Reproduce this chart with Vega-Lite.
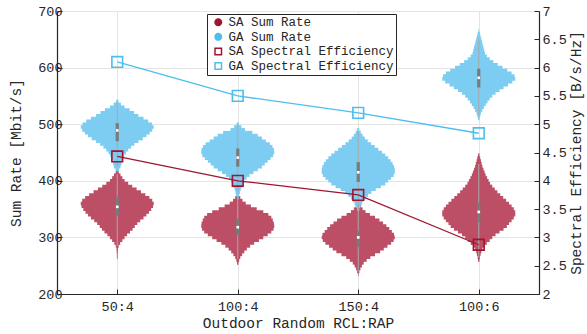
{
"$schema":"https://vega.github.io/schema/vega-lite/v6.json",
"width":482,"height":283,
"autosize":{"type":"none"},
"padding":{"left":57,"top":11,"right":48,"bottom":40},
"background":"white",
"config":{"font":"Liberation Mono","view":{"stroke":null},
"axis":{"labelFont":"Liberation Mono","titleFont":"Liberation Mono","labelFontSize":13.5,"titleFontSize":14.5,"titleFontWeight":"normal","labelColor":"#262626","titleColor":"#262626","domain":true,"ticks":true,"domainWidth":1.2,"domainColor":"#262626","tickColor":"#262626","gridColor":"#e4e4e4","gridWidth":1,"tickSize":-5,"labelPadding":3},
"legend":{"labelFont":"Liberation Mono","labelFontSize":12.5,"labelColor":"#262626","labelLimit":400}},
"datasets":{
"violin":[
{"c":"50:4","g":"SA","v":415,"w":0.04},{"c":"50:4","g":"SA","v":410,"w":0.09},{"c":"50:4","g":"SA","v":405,"w":0.14},{"c":"50:4","g":"SA","v":400,"w":0.2},{"c":"50:4","g":"SA","v":395,"w":0.3},{"c":"50:4","g":"SA","v":390,"w":0.41},{"c":"50:4","g":"SA","v":385,"w":0.53},{"c":"50:4","g":"SA","v":380,"w":0.65},{"c":"50:4","g":"SA","v":375,"w":0.77},{"c":"50:4","g":"SA","v":370,"w":0.88},{"c":"50:4","g":"SA","v":365,"w":0.96},{"c":"50:4","g":"SA","v":360,"w":1.0},{"c":"50:4","g":"SA","v":355,"w":0.98},{"c":"50:4","g":"SA","v":350,"w":0.93},{"c":"50:4","g":"SA","v":345,"w":0.87},{"c":"50:4","g":"SA","v":340,"w":0.8},{"c":"50:4","g":"SA","v":335,"w":0.72},{"c":"50:4","g":"SA","v":330,"w":0.63},{"c":"50:4","g":"SA","v":325,"w":0.55},{"c":"50:4","g":"SA","v":320,"w":0.48},{"c":"50:4","g":"SA","v":315,"w":0.42},{"c":"50:4","g":"SA","v":310,"w":0.35},{"c":"50:4","g":"SA","v":305,"w":0.27},{"c":"50:4","g":"SA","v":300,"w":0.2},{"c":"50:4","g":"SA","v":295,"w":0.14},{"c":"50:4","g":"SA","v":290,"w":0.08},{"c":"50:4","g":"SA","v":285,"w":0.04},{"c":"50:4","g":"SA","v":280,"w":0.02},{"c":"50:4","g":"SA","v":275,"w":0.015},{"c":"50:4","g":"SA","v":270,"w":0.01},{"c":"50:4","g":"SA","v":265,"w":0.01},
{"c":"50:4","g":"GA","v":540,"w":0.03},{"c":"50:4","g":"GA","v":535,"w":0.1},{"c":"50:4","g":"GA","v":530,"w":0.2},{"c":"50:4","g":"GA","v":525,"w":0.34},{"c":"50:4","g":"GA","v":520,"w":0.46},{"c":"50:4","g":"GA","v":515,"w":0.58},{"c":"50:4","g":"GA","v":510,"w":0.72},{"c":"50:4","g":"GA","v":505,"w":0.85},{"c":"50:4","g":"GA","v":500,"w":0.95},{"c":"50:4","g":"GA","v":495,"w":1.0},{"c":"50:4","g":"GA","v":490,"w":0.96},{"c":"50:4","g":"GA","v":485,"w":0.89},{"c":"50:4","g":"GA","v":480,"w":0.8},{"c":"50:4","g":"GA","v":475,"w":0.7},{"c":"50:4","g":"GA","v":470,"w":0.58},{"c":"50:4","g":"GA","v":465,"w":0.47},{"c":"50:4","g":"GA","v":460,"w":0.38},{"c":"50:4","g":"GA","v":455,"w":0.3},{"c":"50:4","g":"GA","v":450,"w":0.24},{"c":"50:4","g":"GA","v":445,"w":0.19},{"c":"50:4","g":"GA","v":440,"w":0.16},{"c":"50:4","g":"GA","v":435,"w":0.13},{"c":"50:4","g":"GA","v":430,"w":0.11},{"c":"50:4","g":"GA","v":425,"w":0.09},{"c":"50:4","g":"GA","v":420,"w":0.05},
{"c":"100:4","g":"SA","v":375,"w":0.03},{"c":"100:4","g":"SA","v":370,"w":0.07},{"c":"100:4","g":"SA","v":365,"w":0.13},{"c":"100:4","g":"SA","v":360,"w":0.22},{"c":"100:4","g":"SA","v":355,"w":0.36},{"c":"100:4","g":"SA","v":350,"w":0.52},{"c":"100:4","g":"SA","v":345,"w":0.7},{"c":"100:4","g":"SA","v":340,"w":0.84},{"c":"100:4","g":"SA","v":335,"w":0.92},{"c":"100:4","g":"SA","v":330,"w":0.96},{"c":"100:4","g":"SA","v":325,"w":0.99},{"c":"100:4","g":"SA","v":320,"w":1.0},{"c":"100:4","g":"SA","v":315,"w":0.98},{"c":"100:4","g":"SA","v":310,"w":0.92},{"c":"100:4","g":"SA","v":305,"w":0.82},{"c":"100:4","g":"SA","v":300,"w":0.7},{"c":"100:4","g":"SA","v":295,"w":0.58},{"c":"100:4","g":"SA","v":290,"w":0.45},{"c":"100:4","g":"SA","v":285,"w":0.34},{"c":"100:4","g":"SA","v":280,"w":0.25},{"c":"100:4","g":"SA","v":275,"w":0.18},{"c":"100:4","g":"SA","v":270,"w":0.12},{"c":"100:4","g":"SA","v":265,"w":0.07},{"c":"100:4","g":"SA","v":260,"w":0.04},{"c":"100:4","g":"SA","v":255,"w":0.02},
{"c":"100:4","g":"GA","v":500,"w":0.03},{"c":"100:4","g":"GA","v":495,"w":0.1},{"c":"100:4","g":"GA","v":490,"w":0.2},{"c":"100:4","g":"GA","v":485,"w":0.4},{"c":"100:4","g":"GA","v":480,"w":0.55},{"c":"100:4","g":"GA","v":475,"w":0.66},{"c":"100:4","g":"GA","v":470,"w":0.77},{"c":"100:4","g":"GA","v":465,"w":0.88},{"c":"100:4","g":"GA","v":460,"w":0.95},{"c":"100:4","g":"GA","v":455,"w":0.99},{"c":"100:4","g":"GA","v":450,"w":1.0},{"c":"100:4","g":"GA","v":445,"w":0.97},{"c":"100:4","g":"GA","v":440,"w":0.9},{"c":"100:4","g":"GA","v":435,"w":0.82},{"c":"100:4","g":"GA","v":430,"w":0.74},{"c":"100:4","g":"GA","v":425,"w":0.66},{"c":"100:4","g":"GA","v":420,"w":0.55},{"c":"100:4","g":"GA","v":415,"w":0.43},{"c":"100:4","g":"GA","v":410,"w":0.32},{"c":"100:4","g":"GA","v":405,"w":0.24},{"c":"100:4","g":"GA","v":400,"w":0.18},{"c":"100:4","g":"GA","v":395,"w":0.14},{"c":"100:4","g":"GA","v":390,"w":0.11},{"c":"100:4","g":"GA","v":385,"w":0.08},{"c":"100:4","g":"GA","v":380,"w":0.06},{"c":"100:4","g":"GA","v":375,"w":0.04},{"c":"100:4","g":"GA","v":370,"w":0.02},
{"c":"150:4","g":"SA","v":360,"w":0.03},{"c":"150:4","g":"SA","v":355,"w":0.07},{"c":"150:4","g":"SA","v":350,"w":0.12},{"c":"150:4","g":"SA","v":345,"w":0.2},{"c":"150:4","g":"SA","v":340,"w":0.32},{"c":"150:4","g":"SA","v":335,"w":0.46},{"c":"150:4","g":"SA","v":330,"w":0.58},{"c":"150:4","g":"SA","v":325,"w":0.68},{"c":"150:4","g":"SA","v":320,"w":0.77},{"c":"150:4","g":"SA","v":315,"w":0.85},{"c":"150:4","g":"SA","v":310,"w":0.92},{"c":"150:4","g":"SA","v":305,"w":0.98},{"c":"150:4","g":"SA","v":300,"w":1.0},{"c":"150:4","g":"SA","v":295,"w":0.97},{"c":"150:4","g":"SA","v":290,"w":0.9},{"c":"150:4","g":"SA","v":285,"w":0.8},{"c":"150:4","g":"SA","v":280,"w":0.7},{"c":"150:4","g":"SA","v":275,"w":0.6},{"c":"150:4","g":"SA","v":270,"w":0.46},{"c":"150:4","g":"SA","v":265,"w":0.33},{"c":"150:4","g":"SA","v":260,"w":0.23},{"c":"150:4","g":"SA","v":255,"w":0.15},{"c":"150:4","g":"SA","v":250,"w":0.1},{"c":"150:4","g":"SA","v":245,"w":0.06},{"c":"150:4","g":"SA","v":240,"w":0.03},{"c":"150:4","g":"SA","v":235,"w":0.01},
{"c":"150:4","g":"GA","v":490,"w":0.03},{"c":"150:4","g":"GA","v":485,"w":0.07},{"c":"150:4","g":"GA","v":480,"w":0.12},{"c":"150:4","g":"GA","v":475,"w":0.18},{"c":"150:4","g":"GA","v":470,"w":0.26},{"c":"150:4","g":"GA","v":465,"w":0.35},{"c":"150:4","g":"GA","v":460,"w":0.45},{"c":"150:4","g":"GA","v":455,"w":0.55},{"c":"150:4","g":"GA","v":450,"w":0.65},{"c":"150:4","g":"GA","v":445,"w":0.74},{"c":"150:4","g":"GA","v":440,"w":0.82},{"c":"150:4","g":"GA","v":435,"w":0.89},{"c":"150:4","g":"GA","v":430,"w":0.94},{"c":"150:4","g":"GA","v":425,"w":0.98},{"c":"150:4","g":"GA","v":420,"w":1.0},{"c":"150:4","g":"GA","v":415,"w":1.0},{"c":"150:4","g":"GA","v":410,"w":0.97},{"c":"150:4","g":"GA","v":405,"w":0.9},{"c":"150:4","g":"GA","v":400,"w":0.82},{"c":"150:4","g":"GA","v":395,"w":0.74},{"c":"150:4","g":"GA","v":390,"w":0.62},{"c":"150:4","g":"GA","v":385,"w":0.48},{"c":"150:4","g":"GA","v":380,"w":0.36},{"c":"150:4","g":"GA","v":375,"w":0.27},{"c":"150:4","g":"GA","v":370,"w":0.2},{"c":"150:4","g":"GA","v":365,"w":0.14},{"c":"150:4","g":"GA","v":360,"w":0.1},{"c":"150:4","g":"GA","v":355,"w":0.06},{"c":"150:4","g":"GA","v":350,"w":0.03},
{"c":"100:6","g":"SA","v":445,"w":0.02},{"c":"100:6","g":"SA","v":440,"w":0.04},{"c":"100:6","g":"SA","v":435,"w":0.06},{"c":"100:6","g":"SA","v":430,"w":0.08},{"c":"100:6","g":"SA","v":425,"w":0.1},{"c":"100:6","g":"SA","v":420,"w":0.13},{"c":"100:6","g":"SA","v":415,"w":0.16},{"c":"100:6","g":"SA","v":410,"w":0.19},{"c":"100:6","g":"SA","v":405,"w":0.23},{"c":"100:6","g":"SA","v":400,"w":0.27},{"c":"100:6","g":"SA","v":395,"w":0.31},{"c":"100:6","g":"SA","v":390,"w":0.37},{"c":"100:6","g":"SA","v":385,"w":0.44},{"c":"100:6","g":"SA","v":380,"w":0.51},{"c":"100:6","g":"SA","v":375,"w":0.59},{"c":"100:6","g":"SA","v":370,"w":0.67},{"c":"100:6","g":"SA","v":365,"w":0.75},{"c":"100:6","g":"SA","v":360,"w":0.83},{"c":"100:6","g":"SA","v":355,"w":0.9},{"c":"100:6","g":"SA","v":350,"w":0.96},{"c":"100:6","g":"SA","v":345,"w":1.0},{"c":"100:6","g":"SA","v":340,"w":1.0},{"c":"100:6","g":"SA","v":335,"w":0.96},{"c":"100:6","g":"SA","v":330,"w":0.9},{"c":"100:6","g":"SA","v":325,"w":0.83},{"c":"100:6","g":"SA","v":320,"w":0.77},{"c":"100:6","g":"SA","v":315,"w":0.68},{"c":"100:6","g":"SA","v":310,"w":0.57},{"c":"100:6","g":"SA","v":305,"w":0.46},{"c":"100:6","g":"SA","v":300,"w":0.37},{"c":"100:6","g":"SA","v":295,"w":0.3},{"c":"100:6","g":"SA","v":290,"w":0.22},{"c":"100:6","g":"SA","v":285,"w":0.15},{"c":"100:6","g":"SA","v":280,"w":0.1},{"c":"100:6","g":"SA","v":275,"w":0.07},{"c":"100:6","g":"SA","v":270,"w":0.05},{"c":"100:6","g":"SA","v":265,"w":0.03},{"c":"100:6","g":"SA","v":260,"w":0.02},
{"c":"100:6","g":"GA","v":665,"w":0.01},{"c":"100:6","g":"GA","v":660,"w":0.03},{"c":"100:6","g":"GA","v":655,"w":0.05},{"c":"100:6","g":"GA","v":650,"w":0.07},{"c":"100:6","g":"GA","v":645,"w":0.09},{"c":"100:6","g":"GA","v":640,"w":0.11},{"c":"100:6","g":"GA","v":635,"w":0.13},{"c":"100:6","g":"GA","v":630,"w":0.15},{"c":"100:6","g":"GA","v":625,"w":0.17},{"c":"100:6","g":"GA","v":620,"w":0.22},{"c":"100:6","g":"GA","v":615,"w":0.3},{"c":"100:6","g":"GA","v":610,"w":0.4},{"c":"100:6","g":"GA","v":605,"w":0.52},{"c":"100:6","g":"GA","v":600,"w":0.65},{"c":"100:6","g":"GA","v":595,"w":0.78},{"c":"100:6","g":"GA","v":590,"w":0.9},{"c":"100:6","g":"GA","v":585,"w":0.98},{"c":"100:6","g":"GA","v":580,"w":1.0},{"c":"100:6","g":"GA","v":575,"w":0.92},{"c":"100:6","g":"GA","v":570,"w":0.8},{"c":"100:6","g":"GA","v":565,"w":0.68},{"c":"100:6","g":"GA","v":560,"w":0.57},{"c":"100:6","g":"GA","v":555,"w":0.46},{"c":"100:6","g":"GA","v":550,"w":0.37},{"c":"100:6","g":"GA","v":545,"w":0.3},{"c":"100:6","g":"GA","v":540,"w":0.24},{"c":"100:6","g":"GA","v":535,"w":0.19},{"c":"100:6","g":"GA","v":530,"w":0.14},{"c":"100:6","g":"GA","v":525,"w":0.1},{"c":"100:6","g":"GA","v":520,"w":0.06},{"c":"100:6","g":"GA","v":515,"w":0.04},{"c":"100:6","g":"GA","v":510,"w":0.02}
],
"box":[
{"c":"50:4","g":"SA","lo":285,"hi":412,"q1":338,"q3":372,"med":354},
{"c":"50:4","g":"GA","lo":425,"hi":540,"q1":470,"q3":502,"med":489},
{"c":"100:4","g":"SA","lo":262,"hi":372,"q1":304,"q3":333,"med":318},
{"c":"100:4","g":"GA","lo":380,"hi":500,"q1":425,"q3":457,"med":441},
{"c":"150:4","g":"SA","lo":240,"hi":358,"q1":283,"q3":312,"med":300},
{"c":"150:4","g":"GA","lo":350,"hi":488,"q1":398,"q3":433,"med":415},
{"c":"100:6","g":"SA","lo":265,"hi":430,"q1":327,"q3":362,"med":345},
{"c":"100:6","g":"GA","lo":515,"hi":650,"q1":565,"q3":598,"med":582}
],
"se":[
{"c":"50:4","g":"SA","se":4.43},{"c":"100:4","g":"SA","se":4.0},{"c":"150:4","g":"SA","se":3.75},{"c":"100:6","g":"SA","se":2.87},
{"c":"50:4","g":"GA","se":6.1},{"c":"100:4","g":"GA","se":5.5},{"c":"150:4","g":"GA","se":5.2},{"c":"100:6","g":"GA","se":4.84}
],
"leg":[{"lab":"SA Sum Rate"},{"lab":"GA Sum Rate"},{"lab":"SA Spectral Efficiency"},{"lab":"GA Spectral Efficiency"}]
},
"layer":[
{"layer":[
 {"data":{"name":"violin"},
  "mark":{"type":"tick","thickness":3.6,"opacity":1},
  "encoding":{
   "x":{"field":"c","type":"nominal","sort":null,"scale":{"type":"point","padding":0.5,"domain":["50:4","100:4","150:4","100:6"]},
        "axis":{"title":"Outdoor Random RCL:RAP","grid":true,"labelAngle":0,"labelPadding":10,"titlePadding":4}},
   "y":{"field":"v","type":"quantitative","scale":{"domain":[200,700],"nice":false,"zero":false},
        "axis":{"title":"Sum Rate [Mbit/s]","orient":"left","values":[200,250,300,350,400,450,500,550,600,650,700],"grid":true,"labelPadding":0,"titlePadding":14}},
   "size":{"field":"w","type":"quantitative","scale":{"type":"linear","domain":[0,1],"range":[0,73]},"legend":null},
   "color":{"field":"g","type":"nominal","scale":{"domain":["SA","GA"],"range":["#bc4f66","#7ccdf1"]},"legend":null}
  }},
 {"data":{"name":"box"},
  "mark":{"type":"rule","color":"#a8a8a8","strokeWidth":1},
  "encoding":{"x":{"field":"c","type":"nominal","sort":null},"y":{"field":"lo","type":"quantitative"},"y2":{"field":"hi"}}},
 {"data":{"name":"box"},
  "mark":{"type":"rule","color":"#7a7a7a","strokeWidth":3.2,"strokeCap":"butt"},
  "encoding":{"x":{"field":"c","type":"nominal","sort":null},"y":{"field":"q1","type":"quantitative"},"y2":{"field":"q3"}}},
 {"data":{"name":"box"},
  "mark":{"type":"point","shape":"square","filled":true,"color":"white","size":7,"opacity":1,"strokeWidth":0},
  "encoding":{"x":{"field":"c","type":"nominal","sort":null},"y":{"field":"med","type":"quantitative"}}},
 {"data":{"name":"leg"},
  "mark":{"type":"point","filled":true,"opacity":0},
  "encoding":{
   "shape":{"field":"lab","type":"nominal","scale":{"domain":["SA Sum Rate","GA Sum Rate","SA Spectral Efficiency","GA Spectral Efficiency"],"range":["circle","circle","square","square"]},
     "legend":{"title":null,"orient":"none","legendX":150,"legendY":3,"strokeColor":"#262626","fillColor":"white","padding":2,"symbolOffset":3,"labelOffset":4,"symbolSize":42,"symbolStrokeWidth":1.5,"rowPadding":1.6,"symbolOpacity":1,"labelFontSize":12.5,"labelLimit":400}},
   "fill":{"field":"lab","type":"nominal","scale":{"domain":["SA Sum Rate","GA Sum Rate","SA Spectral Efficiency","GA Spectral Efficiency"],"range":["#a2142f","#4dbeee","transparent","transparent"]}},
   "stroke":{"field":"lab","type":"nominal","scale":{"domain":["SA Sum Rate","GA Sum Rate","SA Spectral Efficiency","GA Spectral Efficiency"],"range":["#a2142f","#4dbeee","#a2142f","#4dbeee"]}}
  }}
]},
{"data":{"name":"se"},
 "encoding":{
  "x":{"field":"c","type":"nominal","sort":null},
  "y":{"field":"se","type":"quantitative","scale":{"domain":[2,7],"nice":false,"zero":false},
       "axis":{"title":"Spectral Efficiency [B/s/Hz]","orient":"right","values":[2,2.5,3,3.5,4,4.5,5,5.5,6,6.5,7],"format":"~g","grid":false,"titleAngle":270,"titleBaseline":"top","labelPadding":8,"titlePadding":3}},
  "color":{"field":"g","type":"nominal","scale":{"domain":["SA","GA"],"range":["#a2142f","#4dbeee"]},"legend":null}
 },
 "layer":[
  {"mark":{"type":"line","strokeWidth":1.3}},
  {"mark":{"type":"point","shape":"square","filled":false,"size":115,"strokeWidth":1.6,"opacity":1}}
 ]}
],
"resolve":{"scale":{"y":"independent","color":"independent"}}
}
